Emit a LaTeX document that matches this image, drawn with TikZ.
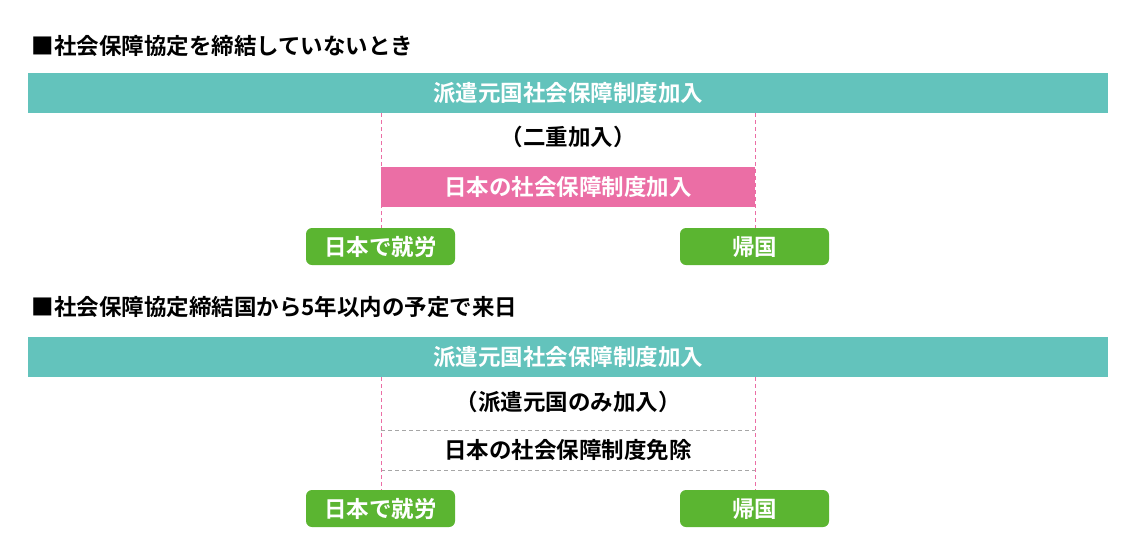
\documentclass[tikz,border=0pt]{standalone}
\usepackage{fontspec}
\setmainfont{Noto Sans CJK JP}[BoldFont={Noto Sans CJK JP Bold}]
\definecolor{teal1}{HTML}{63C3BC}
\definecolor{pink1}{HTML}{EB6EA5}
\definecolor{green1}{HTML}{5BB531}
\begin{document}
\begin{tikzpicture}[x=1pt,y=-1pt,
 txt/.style={font=\fontsize{22.5}{22.5}\selectfont\bfseries},
 bar/.style={fill=teal1,draw=none,minimum width=1080pt,minimum height=40pt,inner sep=0pt,text=white,txt},
 pbar/.style={fill=pink1,draw=none,minimum width=374pt,minimum height=40pt,inner sep=0pt,text=white,txt},
 gbox/.style={fill=green1,rounded corners=6pt,minimum width=149pt,minimum height=37pt,inner sep=0pt,text=white,txt},
 vline/.style={draw=pink1,dash pattern=on 4pt off 3pt,line width=1pt},
 hline/.style={draw=gray!70,dash pattern=on 4pt off 3pt,line width=0.8pt}]
\useasboundingbox (0,0) rectangle (1140,558);
\node[txt,anchor=west] (t1) at (28,46) {■社会保障協定を締結していないとき};
\node[bar] (b1) at (568,93) {派遣元国社会保障制度加入};
\node[txt] (d1) at (568,137) {（二重加入）};
\node[pbar] (p1) at (568,187) {日本の社会保障制度加入};
\node[gbox] (g1) at (380.5,246.5) {日本で就労};
\node[gbox] (r1) at (754.5,246.5) {帰国};
\coordinate (a1) at (381,113); \coordinate (a2) at (381,228);
\coordinate (c1) at (755,113); \coordinate (c2) at (755,228);
\draw[vline] (a1) -- (a2); \draw[vline] (c1) -- (c2);

\node[txt,anchor=west] (t2) at (28,307) {■社会保障協定締結国から5年以内の予定で来日};
\node[bar] (b2) at (568,357) {派遣元国社会保障制度加入};
\node[txt] (d2) at (568,402) {（派遣元国のみ加入）};
\node[txt] (e2) at (568,450) {日本の社会保障制度免除};
\node[gbox] (g2) at (380.5,508.5) {日本で就労};
\node[gbox] (r2) at (754.5,508.5) {帰国};
\coordinate (h1) at (381,430); \coordinate (h2) at (755,430);
\coordinate (h3) at (381,470); \coordinate (h4) at (755,470);
\draw[hline] (h1) -- (h2); \draw[hline] (h3) -- (h4);
\coordinate (a3) at (381,377); \coordinate (a4) at (381,490);
\coordinate (c3) at (755,377); \coordinate (c4) at (755,490);
\draw[vline] (a3) -- (a4); \draw[vline] (c3) -- (c4);
\end{tikzpicture}
\end{document}
